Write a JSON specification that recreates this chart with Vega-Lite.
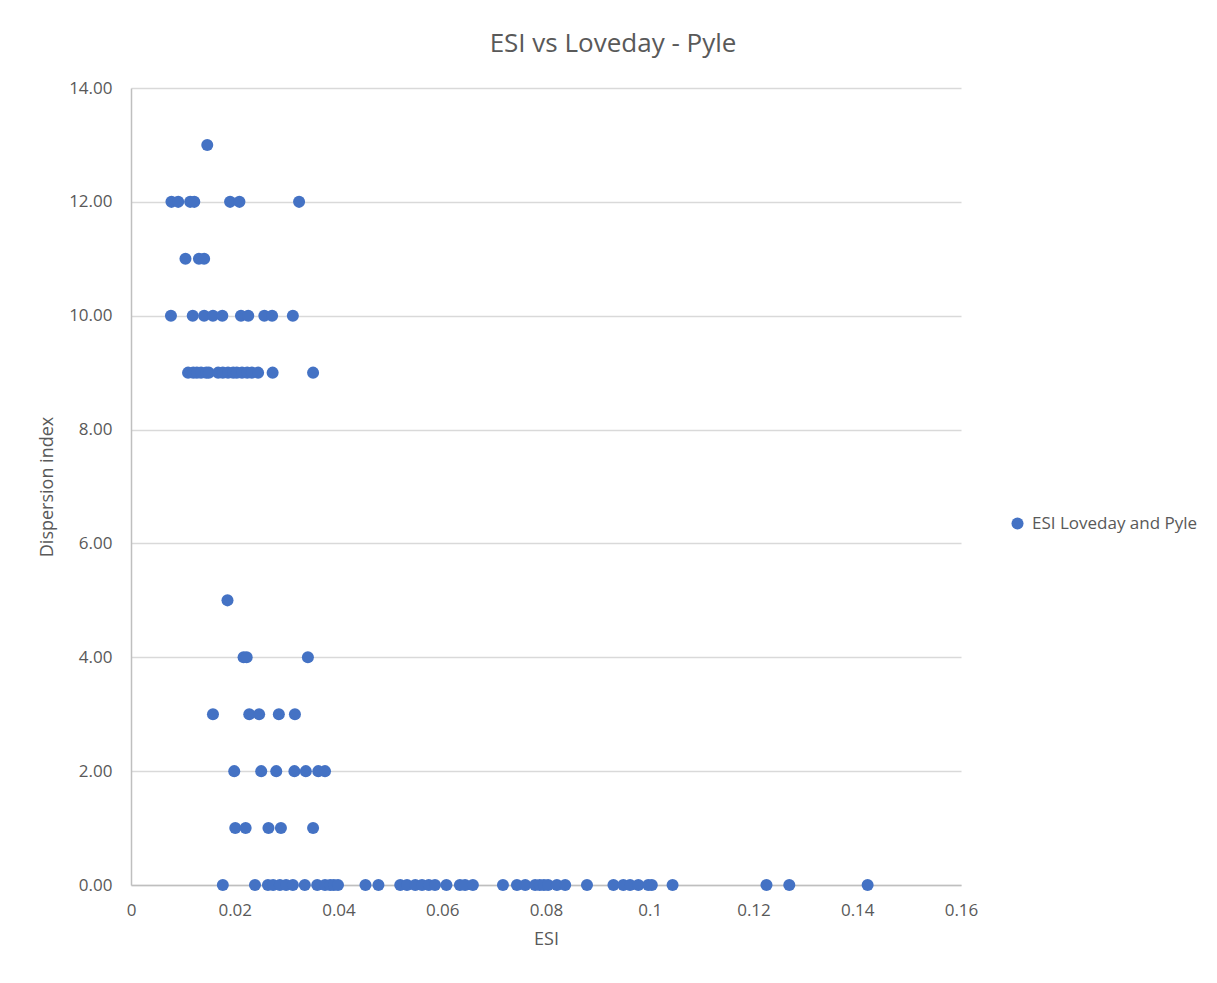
{
  "$schema": "https://vega.github.io/schema/vega-lite/v6.json",
  "width": 830,
  "height": 797,
  "autosize": {"type": "none"},
  "padding": {"left": 131, "top": 88, "right": 256, "bottom": 98},
  "background": "white",
  "title": {
    "text": "ESI vs Loveday - Pyle",
    "font": "Open Sans",
    "fontSize": 26,
    "fontWeight": "normal",
    "color": "#595959",
    "anchor": "middle",
    "dx": 67,
    "offset": 22
  },
  "data": {
    "values": [
      {"ESI": 0.0147, "DI": 13},
      {"ESI": 0.0078, "DI": 12}, {"ESI": 0.0091, "DI": 12}, {"ESI": 0.0114, "DI": 12}, {"ESI": 0.0122, "DI": 12},
      {"ESI": 0.0191, "DI": 12}, {"ESI": 0.0209, "DI": 12}, {"ESI": 0.0324, "DI": 12},
      {"ESI": 0.0105, "DI": 11}, {"ESI": 0.0131, "DI": 11}, {"ESI": 0.0141, "DI": 11},
      {"ESI": 0.0077, "DI": 10}, {"ESI": 0.0119, "DI": 10}, {"ESI": 0.0141, "DI": 10}, {"ESI": 0.0158, "DI": 10},
      {"ESI": 0.0176, "DI": 10}, {"ESI": 0.0212, "DI": 10}, {"ESI": 0.0226, "DI": 10}, {"ESI": 0.0257, "DI": 10},
      {"ESI": 0.0272, "DI": 10}, {"ESI": 0.0312, "DI": 10},
      {"ESI": 0.0110, "DI": 9}, {"ESI": 0.0120, "DI": 9}, {"ESI": 0.0127, "DI": 9}, {"ESI": 0.0135, "DI": 9},
      {"ESI": 0.0145, "DI": 9}, {"ESI": 0.0150, "DI": 9}, {"ESI": 0.0168, "DI": 9}, {"ESI": 0.0177, "DI": 9},
      {"ESI": 0.0187, "DI": 9}, {"ESI": 0.0197, "DI": 9}, {"ESI": 0.0204, "DI": 9}, {"ESI": 0.0214, "DI": 9},
      {"ESI": 0.0224, "DI": 9}, {"ESI": 0.0233, "DI": 9}, {"ESI": 0.0245, "DI": 9}, {"ESI": 0.0273, "DI": 9},
      {"ESI": 0.0351, "DI": 9},
      {"ESI": 0.0186, "DI": 5},
      {"ESI": 0.0217, "DI": 4}, {"ESI": 0.0223, "DI": 4}, {"ESI": 0.0341, "DI": 4},
      {"ESI": 0.0158, "DI": 3}, {"ESI": 0.0228, "DI": 3}, {"ESI": 0.0247, "DI": 3}, {"ESI": 0.0285, "DI": 3},
      {"ESI": 0.0316, "DI": 3},
      {"ESI": 0.0199, "DI": 2}, {"ESI": 0.0251, "DI": 2}, {"ESI": 0.0280, "DI": 2}, {"ESI": 0.0315, "DI": 2},
      {"ESI": 0.0337, "DI": 2}, {"ESI": 0.0361, "DI": 2}, {"ESI": 0.0374, "DI": 2},
      {"ESI": 0.0201, "DI": 1}, {"ESI": 0.0221, "DI": 1}, {"ESI": 0.0265, "DI": 1}, {"ESI": 0.0289, "DI": 1},
      {"ESI": 0.0351, "DI": 1},
      {"ESI": 0.0177, "DI": 0}, {"ESI": 0.0239, "DI": 0}, {"ESI": 0.0264, "DI": 0}, {"ESI": 0.0274, "DI": 0},
      {"ESI": 0.0287, "DI": 0}, {"ESI": 0.0299, "DI": 0}, {"ESI": 0.0312, "DI": 0}, {"ESI": 0.0335, "DI": 0},
      {"ESI": 0.0359, "DI": 0}, {"ESI": 0.0374, "DI": 0}, {"ESI": 0.0384, "DI": 0}, {"ESI": 0.0391, "DI": 0},
      {"ESI": 0.0399, "DI": 0}, {"ESI": 0.0452, "DI": 0}, {"ESI": 0.0477, "DI": 0}, {"ESI": 0.0519, "DI": 0},
      {"ESI": 0.0532, "DI": 0}, {"ESI": 0.0548, "DI": 0}, {"ESI": 0.0561, "DI": 0}, {"ESI": 0.0574, "DI": 0},
      {"ESI": 0.0586, "DI": 0}, {"ESI": 0.0608, "DI": 0}, {"ESI": 0.0634, "DI": 0}, {"ESI": 0.0644, "DI": 0},
      {"ESI": 0.0659, "DI": 0}, {"ESI": 0.0717, "DI": 0}, {"ESI": 0.0744, "DI": 0}, {"ESI": 0.0760, "DI": 0},
      {"ESI": 0.0779, "DI": 0}, {"ESI": 0.0788, "DI": 0}, {"ESI": 0.0796, "DI": 0}, {"ESI": 0.0804, "DI": 0},
      {"ESI": 0.0821, "DI": 0}, {"ESI": 0.0837, "DI": 0}, {"ESI": 0.0879, "DI": 0}, {"ESI": 0.0930, "DI": 0},
      {"ESI": 0.0949, "DI": 0}, {"ESI": 0.0962, "DI": 0}, {"ESI": 0.0978, "DI": 0}, {"ESI": 0.0997, "DI": 0},
      {"ESI": 0.1004, "DI": 0}, {"ESI": 0.1044, "DI": 0}, {"ESI": 0.1225, "DI": 0}, {"ESI": 0.1269, "DI": 0},
      {"ESI": 0.1420, "DI": 0}
    ]
  },
  "mark": {"type": "point", "shape": "circle", "filled": true, "size": 145, "opacity": 1},
  "encoding": {
    "x": {
      "field": "ESI",
      "type": "quantitative",
      "title": "ESI",
      "scale": {"domain": [0, 0.16], "nice": false, "zero": true},
      "axis": {
        "values": [0, 0.02, 0.04, 0.06, 0.08, 0.1, 0.12, 0.14, 0.16],
        "format": "~g",
        "grid": false,
        "ticks": false,
        "tickSize": 0,
        "labelFlush": false,
        "labelPadding": 17,
        "titlePadding": 12
      }
    },
    "y": {
      "field": "DI",
      "type": "quantitative",
      "title": "Dispersion index",
      "scale": {"domain": [0, 14], "nice": false},
      "axis": {
        "values": [0, 2, 4, 6, 8, 10, 12, 14],
        "format": ".2f",
        "grid": true,
        "ticks": false,
        "tickSize": 0,
        "labelFlush": false,
        "labelPadding": 19,
        "titlePadding": 12
      }
    },
    "color": {
      "datum": "ESI Loveday and Pyle",
      "type": "nominal",
      "scale": {"range": ["#4472C4"]},
      "legend": {
        "title": null,
        "orient": "none",
        "legendX": 878,
        "legendY": 427,
        "padding": 0,
        "symbolType": "circle",
        "symbolSize": 145,
        "symbolFillColor": "#4472C4",
        "symbolStrokeWidth": 0,
        "labelFont": "Open Sans",
        "labelFontSize": 17,
        "labelColor": "#595959",
        "labelOffset": 6,
        "labelLimit": 400
      }
    }
  },
  "config": {
    "view": {"stroke": null},
    "axis": {
      "labelFont": "Open Sans",
      "labelFontSize": 17,
      "labelColor": "#595959",
      "titleFont": "Open Sans",
      "titleFontSize": 18,
      "titleFontWeight": "normal",
      "titleColor": "#595959",
      "domainColor": "#bfbfbf",
      "domainWidth": 1.5,
      "gridColor": "#d9d9d9",
      "gridWidth": 1.5
    }
  }
}
